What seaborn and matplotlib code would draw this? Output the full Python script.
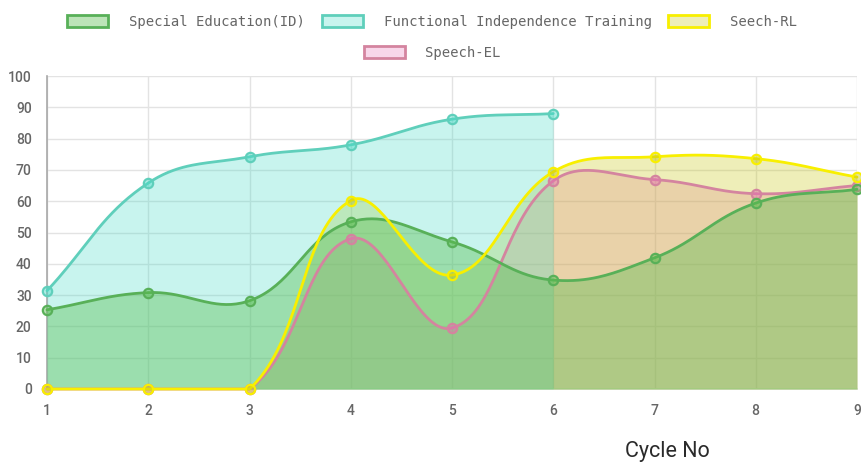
import numpy as np
import pandas as pd
import matplotlib
matplotlib.use("Agg")
import matplotlib.pyplot as plt
from matplotlib.patches import Patch
import seaborn as sns

# datos
cycles = [1, 2, 3, 4, 5, 6, 7, 8, 9]
special_ed = [25.3, 30.8, 28.2, 53.4, 47.0, 34.8, 41.9, 59.4, 63.8]
functional = [31.4, 65.8, 74.2, 78.0, 86.2, 88.0]
seech_rl = [0, 0, 0, 60.2, 36.4, 69.4, 74.2, 73.6, 67.7]
speech_el = [0, 0, 0, 48.0, 19.5, 66.5, 66.9, 62.4, 65.0]

series = [
    # nombre, valores, color linea, color relleno
    ("Special Education(ID)", special_ed, "#58b058", (0.35, 0.74, 0.31, 0.40)),
    ("Functional Independence Training", functional, "#5fcfbb", (0.29, 0.86, 0.78, 0.30)),
    ("Seech-RL", seech_rl, "#f8ef00", (0.78, 0.78, 0.08, 0.30)),
    ("Speech-EL", speech_el, "#d4849f", (0.90, 0.43, 0.70, 0.27)),
]

XMIN, XMAX, YMIN, YMAX = 1, 9, 0, 100
SX, SY = 101.25, 3.13  # px por unidad, para pesar las distancias como chart.js


def curva_suave(xs, ys, t=0.4, n=40):
    # spline tipo chart.js (tension 0.4) con puntos de control acotados al area
    pts = np.column_stack([np.array(xs, float) * SX, np.array(ys, float) * SY])
    m = len(pts)
    prev_c = np.zeros_like(pts)
    next_c = np.zeros_like(pts)
    for i in range(m):
        p0 = pts[i - 1] if i > 0 else pts[i]
        p1 = pts[i]
        p2 = pts[i + 1] if i < m - 1 else pts[i]
        d01 = np.hypot(*(p1 - p0))
        d12 = np.hypot(*(p2 - p1))
        tot = d01 + d12
        s01 = d01 / tot if tot else 0
        s12 = d12 / tot if tot else 0
        prev_c[i] = p1 - t * s01 * (p2 - p0)
        next_c[i] = p1 + t * s12 * (p2 - p0)
    lo = np.array([XMIN * SX, YMIN * SY])
    hi = np.array([XMAX * SX, YMAX * SY])
    prev_c = np.clip(prev_c, lo, hi)
    next_c = np.clip(next_c, lo, hi)
    tt = np.linspace(0, 1, n)[:, None]
    out = [pts[:1]]
    for i in range(m - 1):
        a, b, c, d = pts[i], next_c[i], prev_c[i + 1], pts[i + 1]
        seg = ((1 - tt) ** 3) * a + 3 * ((1 - tt) ** 2) * tt * b + 3 * (1 - tt) * tt ** 2 * c + tt ** 3 * d
        out.append(seg[1:])
    out = np.vstack(out)
    return out[:, 0] / SX, out[:, 1] / SY


sns.set_style("white")
plt.rcParams["font.family"] = ["Roboto", "DejaVu Sans"]

fig = plt.figure(figsize=(8.61, 4.67), dpi=100)
ax = fig.add_axes([47 / 861, 1 - 389 / 467, 810 / 861, 313 / 467])

curvas = {}
for nombre, vals, lc, fc in series:
    curvas[nombre] = curva_suave(cycles[:len(vals)], vals)

# rellenos: chart.js pinta el primer dataset encima
for z, (nombre, vals, lc, fc) in enumerate(reversed(series)):
    cx, cy = curvas[nombre]
    ax.fill_between(cx, 0, cy, color=fc, linewidth=0, zorder=2 + z)

orden_lineas = ["Speech-EL", "Functional Independence Training", "Special Education(ID)", "Seech-RL"]
info = {s[0]: s for s in series}
for z, nombre in enumerate(orden_lineas):
    _, vals, lc, fc = info[nombre]
    cx, cy = curvas[nombre]
    ax.plot(cx, cy, color=lc, lw=2.0, zorder=10 + z, clip_on=False, solid_capstyle="round")
    df = pd.DataFrame({"x": cycles[:len(vals)], "y": vals})
    sns.scatterplot(data=df, x="x", y="y", ax=ax, s=45, color=fc[:3] + (0.45,),
                    edgecolor=lc, linewidth=1.6, zorder=10 + z, clip_on=False, legend=False)

ax.set_xlim(XMIN, XMAX)
ax.set_ylim(YMIN, YMAX)
ax.set_xticks(cycles)
ax.set_yticks(range(0, 101, 10))
ax.set_xlabel("")
ax.set_ylabel("")
ax.grid(True, color="#e3e3e3", lw=1, zorder=0)
ax.set_axisbelow(True)
for s in ["top", "right"]:
    ax.spines[s].set_visible(False)
ax.spines["left"].set_color("#a8a8a8")
ax.spines["left"].set_linewidth(1.2)
ax.spines["bottom"].set_color("#dcdcdc")
ax.spines["bottom"].set_linewidth(1.2)
ax.tick_params(axis="both", length=8, width=1, color="#e3e3e3", labelcolor="#666666",
               labelsize=10, pad=3)
for lab in ax.get_xticklabels() + ax.get_yticklabels():
    lab.set_fontweight("medium")

fig.text(667 / 861, 1 - 452 / 467, "Cycle No", ha="center", va="center",
         fontsize=15.5, color="#2a2a2a")

# leyenda en dos filas centradas
fuente = {"family": "DejaVu Sans Mono", "size": 10}
handles = [Patch(facecolor=fc, edgecolor=lc, linewidth=2) for _, _, lc, fc in series]
labels = [s[0] for s in series]
leg1 = fig.legend(handles[:3], labels[:3], loc="center", bbox_to_anchor=(0.502, 1 - 22 / 467),
                  ncol=3, frameon=False, prop=fuente, handlelength=2.95, handleheight=0.95,
                  handletextpad=1.5, columnspacing=1.2, borderpad=0, borderaxespad=0)
leg2 = fig.legend(handles[3:], labels[3:], loc="center", bbox_to_anchor=(0.502, 1 - 53 / 467),
                  ncol=1, frameon=False, prop=fuente, handlelength=2.95, handleheight=0.95,
                  handletextpad=1.5, borderpad=0, borderaxespad=0)
for leg in (leg1, leg2):
    for t in leg.get_texts():
        t.set_color("#666666")

fig.savefig("out.png", dpi=100)
